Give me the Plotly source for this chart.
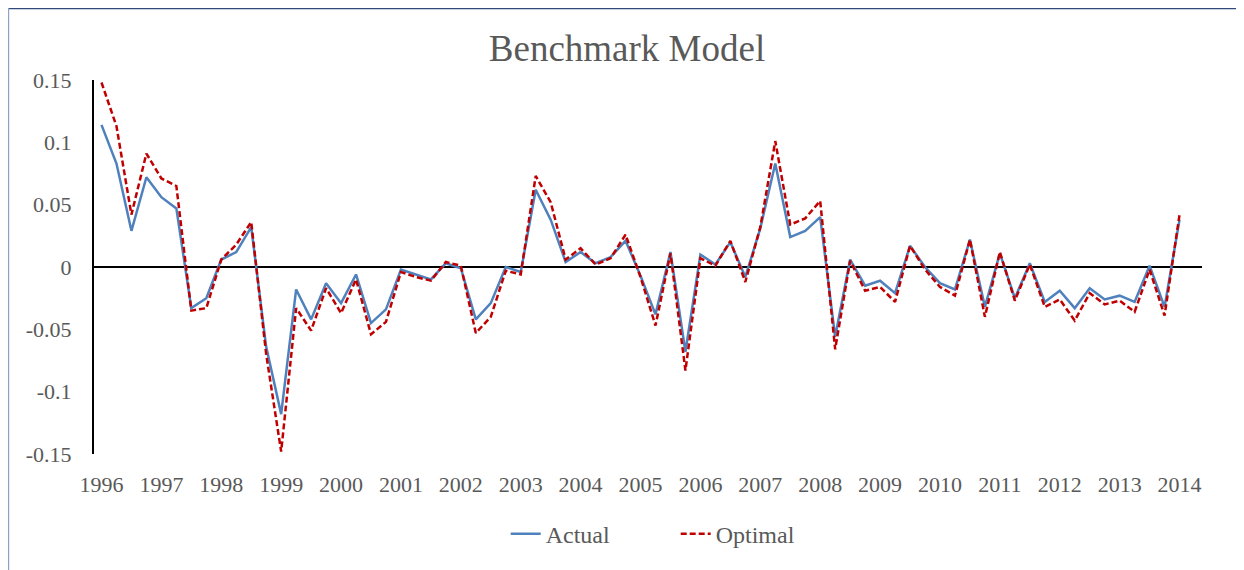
import plotly.graph_objects as go

quarters = [f"{y}Q{q}" for y in range(1996, 2015) for q in range(1, 5)][:73]

actual = [0.114, 0.083, 0.029, 0.072, 0.056, 0.047, -0.033, -0.025, 0.006, 0.012,
          0.032, -0.064, -0.118, -0.018, -0.042, -0.013, -0.029, -0.006, -0.045, -0.034,
          -0.002, -0.006, -0.010, 0.003, -0.001, -0.042, -0.029, 0.000, -0.004, 0.062,
          0.038, 0.004, 0.012, 0.003, 0.008, 0.021, -0.007, -0.038, 0.012, -0.068,
          0.010, 0.002, 0.020, -0.008, 0.031, 0.083, 0.024, 0.029, 0.040, -0.056,
          0.006, -0.015, -0.011, -0.021, 0.017, 0.000, -0.013, -0.018, 0.022, -0.032,
          0.011, -0.025, 0.003, -0.028, -0.019, -0.033, -0.017, -0.026, -0.023, -0.028,
          0.001, -0.032, 0.038]

optimal = [0.148, 0.113, 0.042, 0.091, 0.071, 0.065, -0.035, -0.033, 0.006, 0.018,
           0.036, -0.070, -0.148, -0.033, -0.051, -0.017, -0.037, -0.010, -0.054, -0.044,
           -0.004, -0.008, -0.011, 0.004, 0.001, -0.053, -0.040, -0.003, -0.006, 0.073,
           0.052, 0.006, 0.015, 0.002, 0.007, 0.026, -0.008, -0.047, 0.011, -0.083,
           0.007, 0.001, 0.021, -0.012, 0.032, 0.101, 0.034, 0.039, 0.053, -0.066,
           0.005, -0.019, -0.016, -0.028, 0.017, -0.002, -0.016, -0.023, 0.022, -0.040,
           0.012, -0.027, 0.002, -0.032, -0.026, -0.043, -0.021, -0.030, -0.027, -0.036,
           -0.002, -0.039, 0.042]

year_labels = [str(y) for y in range(1996, 2015)]
y_tickvals = [-0.15, -0.1, -0.05, 0, 0.05, 0.1, 0.15]
y_ticktext = ["-0.15", "-0.1", "-0.05", "0", "0.05", "0.1", "0.15"]

FONT = "Liberation Serif, Times New Roman, serif"
GRAY = "#595959"

fig = go.Figure()
fig.add_trace(go.Scatter(x=quarters, y=actual, name="Actual", mode="lines",
                         line=dict(color="#4f81bd", width=2.5)))
fig.add_trace(go.Scatter(x=quarters, y=optimal, name="Optimal", mode="lines",
                         line=dict(color="#c00000", width=2.5, dash="6px,3px")))

fig.update_layout(
    width=1244, height=570,
    margin=dict(l=86, r=50, t=72, b=124),
    paper_bgcolor="white", plot_bgcolor="white",
    font=dict(family=FONT, size=22, color=GRAY),
    title=dict(text="Benchmark Model", x=619 / 1244, xanchor="center",
               y=1 - 40 / 570, yanchor="middle",
               font=dict(family=FONT, size=37, color=GRAY)),
    showlegend=True,
    legend=dict(orientation="h", x=0.525, xanchor="center", y=-0.214, yanchor="middle",
                entrywidth=125, entrywidthmode="pixels",
                font=dict(family=FONT, size=24, color=GRAY), bgcolor="rgba(0,0,0,0)"),
    xaxis=dict(type="category", range=[-0.5, 73.5], showgrid=False, showline=False,
               zeroline=False, tickmode="array", tickvals=quarters[::4],
               ticktext=year_labels, ticks="", ticklabelstandoff=15,
               tickfont=dict(family=FONT, size=22, color=GRAY)),
    yaxis=dict(range=[-0.15, 0.15], showgrid=False, showline=True, linecolor="black",
               linewidth=2, zeroline=True, zerolinecolor="black", zerolinewidth=2,
               tickmode="array", tickvals=y_tickvals, ticktext=y_ticktext, ticks="",
               ticklabelstandoff=16,
               tickfont=dict(family=FONT, size=22, color=GRAY)),
)

# chart frame (top and left edges visible in the reference)
fig.add_shape(type="line", xref="paper", yref="paper", x0=-0.0772, x1=1.05,
              y0=1.1912, y1=1.1912, line=dict(color="#2e4a7a", width=1.5))
fig.add_shape(type="line", xref="paper", yref="paper", x0=-0.0772, x1=-0.0772,
              y0=1.1912, y1=-0.34, line=dict(color="#8fa3c7", width=1.5))

fig.write_html("out.html")
